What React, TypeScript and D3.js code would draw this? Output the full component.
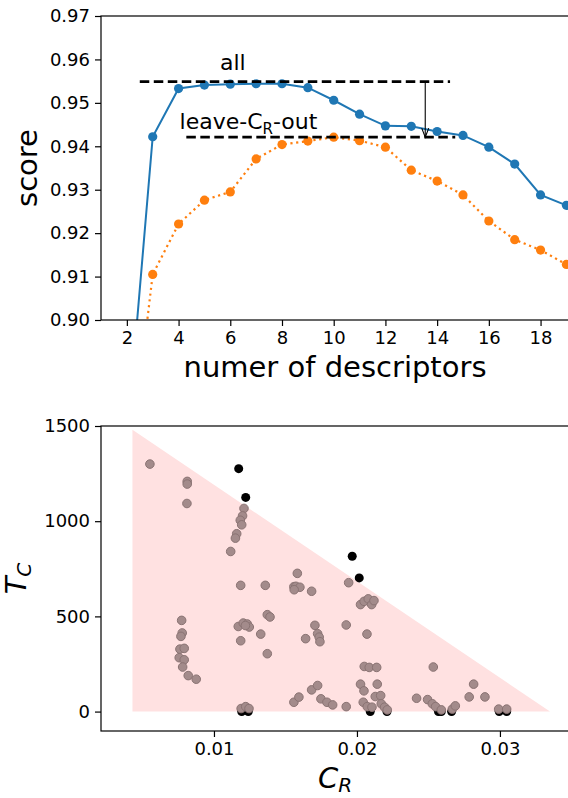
import React, { useRef, useEffect } from "react"
import * as d3 from "d3"

// top panel: score vs number of descriptors
const descriptors = [2, 3, 4, 5, 6, 7, 8, 9, 10, 11, 12, 13, 14, 15, 16, 17, 18, 19]
const allScores = [0.872, 0.9422, 0.9533, 0.9541, 0.9543, 0.9544, 0.9544, 0.9535, 0.9506, 0.9474, 0.9447, 0.9446, 0.9434, 0.9425, 0.9398, 0.9359, 0.9288, 0.9264]
const leaveOutScores = [0.8605, 0.9105, 0.9221, 0.9276, 0.9295, 0.9371, 0.9404, 0.9412, 0.9421, 0.9413, 0.9398, 0.9345, 0.932, 0.9288, 0.9228, 0.9185, 0.9161, 0.9128]
const scoreTicks = [0.9, 0.91, 0.92, 0.93, 0.94, 0.95, 0.96, 0.97]
const descTicks = [2, 4, 6, 8, 10, 12, 14, 16, 18]
const bestAll = 0.9549
const bestLeaveOut = 0.9421

// bottom panel: T_C vs C_R
const grayCR = [
  0.00552, 0.00813, 0.00813, 0.00811,
  0.0121, 0.012, 0.01184, 0.01194, 0.01159, 0.0115, 0.01117, 0.01187, 0.01359,
  0.00774, 0.00778, 0.00769, 0.00762, 0.00792, 0.00757, 0.00792, 0.00781, 0.0082, 0.00876,
  0.0117, 0.01205, 0.01233, 0.01247, 0.0122, 0.01187, 0.01327, 0.01373, 0.01392, 0.01373,
  0.0119, 0.01222, 0.01245,
  0.01583, 0.01559, 0.01573, 0.01601, 0.01561, 0.01683, 0.01706, 0.01641, 0.01725, 0.01736, 0.01741,
  0.01559, 0.01594, 0.01683, 0.01725, 0.01748, 0.0179, 0.0183, 0.01925,
  0.01942, 0.02025, 0.0205, 0.02079, 0.02103, 0.02119, 0.01925, 0.0207,
  0.02051, 0.02086, 0.02138, 0.02025, 0.02049, 0.02142, 0.02128, 0.02166,
  0.02044, 0.02072, 0.02105, 0.0217, 0.02193, 0.02212,
  0.02534, 0.02417, 0.02494, 0.02527, 0.0255, 0.0259, 0.02667, 0.02688,
  0.02816, 0.02785, 0.02895, 0.02991, 0.03047,
]
const grayTC = [
  1300, 1209, 1195, 1093,
  1067, 1028, 1005, 981, 934, 911, 841, 663, 663,
  479, 413, 395, 328, 332, 283, 272, 234, 189, 170,
  447, 465, 460, 444, 452, 372, 407, 509, 497, 304,
  16, 26, 16,
  726, 656, 658, 653, 640, 632, 453, 383, 409, 391, 367,
  49, 76, 114, 137, 67, 49, 35, 26,
  677, 562, 579, 592, 562, 583, 455, 407,
  237, 232, 232, 144, 109, 144, 79, 84,
  49, 26, 23, 41, 23, 9,
  234, 70, 63, 41, 26, 9, 13, 30,
  144, 77, 77, 13, 13,
]
const blackCR = [0.01173, 0.01222, 0.01967, 0.02016, 0.01194, 0.0124, 0.02093, 0.0221, 0.0257, 0.0259, 0.02662, 0.02995, 0.03047]
const blackTC = [1276, 1125, 816, 702, 0, 0, 0, 0, 0, 0, 0, 0, 0]
const regionCR = [0.0043, 0.0043, 0.0335]
const regionTC = [1480, 0, 0]
const tcTicks = [0, 500, 1000, 1500]
const crTicks = [0.01, 0.02, 0.03]

const FONT = "DejaVu Sans"

export default function App() {
  const svgRef = useRef(null)

  useEffect(() => {
    const svg = d3.select(svgRef.current)
    svg.selectAll("*").remove()

    // ---------- top panel ----------
    const L = 101, R = 569, T1 = 16, B1 = 320
    const x1 = d3.scaleLinear().domain([1, 19.1]).range([L, R])
    const y1 = d3.scaleLinear().domain([0.9, 0.97]).range([B1, T1])

    svg.append("defs").append("clipPath").attr("id", "clipTop")
      .append("rect").attr("x", L).attr("y", T1).attr("width", R - L).attr("height", B1 - T1)

    const top = svg.append("g")
    const plot1 = top.append("g").attr("clip-path", "url(#clipTop)")

    const line = d3.line().x(d => x1(d[0])).y(d => y1(d[1]))
    const blue = descriptors.map((d, i) => [d, allScores[i]])
    const orange = descriptors.map((d, i) => [d, leaveOutScores[i]])

    plot1.append("path").datum(blue).attr("d", line)
      .attr("fill", "none").attr("stroke", "#1f77b4").attr("stroke-width", 2)
    plot1.selectAll("circle.blue").data(blue).enter().append("circle")
      .attr("class", "blue").attr("cx", d => x1(d[0])).attr("cy", d => y1(d[1]))
      .attr("r", 4.6).attr("fill", "#1f77b4")

    plot1.append("path").datum(orange).attr("d", line)
      .attr("fill", "none").attr("stroke", "#ff7f0e").attr("stroke-width", 2.2)
      .attr("stroke-dasharray", "2.2,3.6")
    plot1.selectAll("circle.orange").data(orange).enter().append("circle")
      .attr("class", "orange").attr("cx", d => x1(d[0])).attr("cy", d => y1(d[1]))
      .attr("r", 4.6).attr("fill", "#ff7f0e")

    // dashed best lines + arrow
    top.append("line")
      .attr("x1", x1(2.5)).attr("x2", x1(14.5)).attr("y1", y1(bestAll)).attr("y2", y1(bestAll))
      .attr("stroke", "black").attr("stroke-width", 2.6).attr("stroke-dasharray", "9.5,4.5")
    top.append("line")
      .attr("x1", x1(4.3)).attr("x2", x1(14.7)).attr("y1", y1(bestLeaveOut)).attr("y2", y1(bestLeaveOut))
      .attr("stroke", "black").attr("stroke-width", 2.6).attr("stroke-dasharray", "9.5,4.5")

    const ax = x1(13.54), ay0 = y1(bestAll), ay1 = y1(bestLeaveOut)
    top.append("line").attr("x1", ax).attr("x2", ax).attr("y1", ay0).attr("y2", ay1)
      .attr("stroke", "black").attr("stroke-width", 1.1)
    top.append("path")
      .attr("d", `M${ax - 3.5},${ay1 - 9} L${ax},${ay1} L${ax + 3.5},${ay1 - 9}`)
      .attr("fill", "none").attr("stroke", "black").attr("stroke-width", 1.1)

    top.append("text").attr("x", x1(6.1)).attr("y", 70)
      .attr("text-anchor", "middle").attr("font-family", FONT).attr("font-size", 22)
      .text("all")
    const lo = top.append("text").attr("x", x1(4.04)).attr("y", 129)
      .attr("font-family", FONT).attr("font-size", 22)
    lo.append("tspan").text("leave-C")
    lo.append("tspan").attr("font-size", 15).attr("dy", 5).text("R")
    lo.append("tspan").attr("dy", -5).text("-out")

    // frame
    top.append("rect").attr("x", L).attr("y", T1).attr("width", R - L).attr("height", B1 - T1)
      .attr("fill", "none").attr("stroke", "black").attr("stroke-width", 1.2)

    const yAx1 = top.append("g").attr("transform", `translate(${L},0)`)
      .call(d3.axisLeft(y1).tickValues(scoreTicks).tickFormat(d3.format(".2f")).tickSize(6).tickPadding(5))
    const xAx1 = top.append("g").attr("transform", `translate(0,${B1})`)
      .call(d3.axisBottom(x1).tickValues(descTicks).tickSize(6).tickPadding(5))

    top.append("text")
      .attr("transform", `translate(37,${(T1 + B1) / 2}) rotate(-90)`)
      .attr("text-anchor", "middle").attr("font-family", FONT).attr("font-size", 29)
      .text("score")
    top.append("text").attr("x", (L + R) / 2).attr("y", 377)
      .attr("text-anchor", "middle").attr("font-family", FONT).attr("font-size", 29)
      .text("numer of descriptors")

    // ---------- bottom panel ----------
    const T2 = 426, B2 = 731
    const x2 = d3.scaleLinear().domain([0.0021, 0.03483]).range([L, R])
    const y2 = d3.scaleLinear().domain([-102, 1500]).range([B2, T2])

    const bot = svg.append("g")
    const region = regionCR.map((c, i) => [x2(c), y2(regionTC[i])])
    bot.append("path").attr("d", "M" + region.join("L") + "Z")
      .attr("fill", "#ffe1e1")

    bot.selectAll("circle.black").data(blackCR).enter().append("circle")
      .attr("class", "black").attr("cx", d => x2(d)).attr("cy", (d, i) => y2(blackTC[i]))
      .attr("r", 4.5).attr("fill", "black")

    bot.selectAll("circle.gray").data(grayCR).enter().append("circle")
      .attr("class", "gray").attr("cx", d => x2(d)).attr("cy", (d, i) => y2(grayTC[i]))
      .attr("r", 4.3).attr("fill", "#a38b8b").attr("stroke", "#8a7373").attr("stroke-width", 1)

    bot.append("rect").attr("x", L).attr("y", T2).attr("width", R - L).attr("height", B2 - T2)
      .attr("fill", "none").attr("stroke", "black").attr("stroke-width", 1.2)

    const yAx2 = bot.append("g").attr("transform", `translate(${L},0)`)
      .call(d3.axisLeft(y2).tickValues(tcTicks).tickFormat(d3.format("d")).tickSize(6).tickPadding(5))
    const xAx2 = bot.append("g").attr("transform", `translate(0,${B2})`)
      .call(d3.axisBottom(x2).tickValues(crTicks).tickFormat(d3.format(".2f")).tickSize(6).tickPadding(5))

    ;[yAx1, xAx1, yAx2, xAx2].forEach(a => {
      a.select(".domain").remove()
      a.attr("font-family", FONT).attr("font-size", 18)
      a.selectAll(".tick line").attr("stroke-width", 1.2)
      a.selectAll(".tick text").attr("fill", "black")
    })

    const tc = bot.append("text")
      .attr("transform", `translate(26,${(T2 + B2) / 2}) rotate(-90)`)
      .attr("text-anchor", "middle").attr("font-family", FONT).attr("font-style", "italic").attr("font-size", 29)
    tc.append("tspan").text("T")
    tc.append("tspan").attr("font-size", 20).attr("dy", 5).text("C")

    const cr = bot.append("text").attr("x", (L + R) / 2).attr("y", 788)
      .attr("text-anchor", "middle").attr("font-family", FONT).attr("font-style", "italic").attr("font-size", 29)
    cr.append("tspan").text("C")
    cr.append("tspan").attr("font-size", 20).attr("dy", 4).text("R")
  }, [])

  return (
    <svg ref={svgRef} width={568} height={798}
      style={{ position: "absolute", left: 0, top: 0, background: "white" }} />
  )
}
